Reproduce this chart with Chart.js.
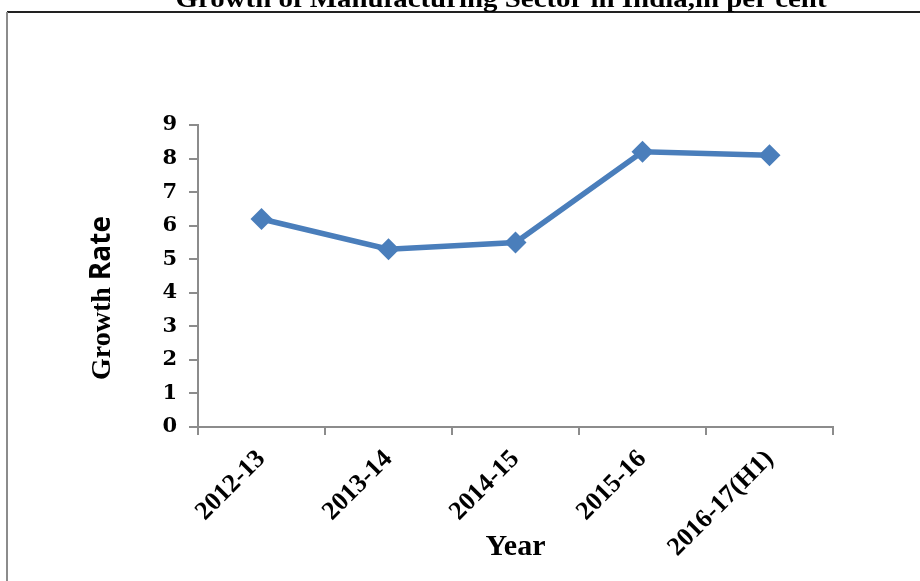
<!DOCTYPE html>
<html>
<head>
<meta charset="utf-8">
<script src="https://cdn.jsdelivr.net/npm/chart.js@4.4.0/dist/chart.umd.min.js"></script>
<style>
  html, body { margin: 0; padding: 0; background: #fff; }
  #wrap { width: 920px; height: 581px; position: relative; }
</style>
</head>
<body>
<div id="wrap"><canvas id="myChart" width="920" height="581"></canvas></div>
<script>
const chartTitle = 'Growth of Manufacturing Sector in India,in per cent';
const years = ['2012-13', '2013-14', '2014-15', '2015-16', '2016-17(H1)'];
const growthRate = [6.2, 5.3, 5.5, 8.2, 8.1];
const yTicks = [0, 1, 2, 3, 4, 5, 6, 7, 8, 9];

const lineBlue = '#4a7ebb';
const axisGrey = '#8c8c8c';
const serif = '"Liberation Serif", "DejaVu Serif", serif';
const wideSerif = '"DejaVu Serif", "Liberation Serif", serif';

// frame, cut-off title and the two-font y title
const decor = {
    id: 'decor',
    afterDraw(chart) {
        const ctx = chart.ctx;
        ctx.save();
        ctx.fillStyle = '#222';
        ctx.fillRect(7, 11, 913, 2);
        ctx.fillStyle = axisGrey;
        ctx.fillRect(6, 12, 2, 569);

        // title sits mostly above the canvas, stretch it to the original width
        ctx.fillStyle = '#000';
        ctx.font = 'bold 26px ' + serif;
        ctx.textAlign = 'center';
        ctx.textBaseline = 'alphabetic';
        const tw = ctx.measureText(chartTitle).width;
        ctx.save();
        ctx.translate(501, 7);
        ctx.scale(651 / tw, 1);
        ctx.fillText(chartTitle, 0, 0);
        ctx.restore();

        // "Growth Rate" rotated
        ctx.translate(110, 298);
        ctx.rotate(-Math.PI / 2);
        const p1 = 'Growth ';
        const p2 = 'Rate';
        const f1 = 'bold 28px ' + serif;
        const f2 = 'bold 28px "Open Sans", "Liberation Sans", sans-serif';
        ctx.font = f1;
        const w1 = ctx.measureText(p1).width;
        ctx.font = f2;
        const w2 = ctx.measureText(p2).width;
        const x0 = -(w1 + w2) / 2;
        ctx.textAlign = 'left';
        ctx.font = f1;
        ctx.fillText(p1, x0, 0);
        ctx.font = f2;
        ctx.fillText(p2, x0 + w1, 0);
        ctx.restore();
    }
};

const ctx = document.getElementById('myChart');
new Chart(ctx, {
    type: 'line',
    data: {
        labels: years,
        datasets: [{
            data: growthRate,
            borderColor: lineBlue,
            backgroundColor: lineBlue,
            borderWidth: 5.5,
            pointStyle: 'rectRot',
            pointRadius: 11,
            pointHoverRadius: 11,
            pointBorderWidth: 0,
            tension: 0
        }]
    },
    options: {
        responsive: false,
        animation: false,
        events: [],
        layout: { padding: { top: 125, right: 87, left: 0, bottom: 0 } },
        plugins: {
            legend: { display: false },
            title: { display: false },
            tooltip: { enabled: false }
        },
        scales: {
            x: {
                offset: true,
                grid: {
                    offset: true,
                    drawOnChartArea: false,
                    color: axisGrey,
                    tickLength: 8,
                    lineWidth: 2
                },
                border: { color: axisGrey, width: 2 },
                ticks: {
                    maxRotation: 45,
                    minRotation: 45,
                    padding: 9,
                    color: '#000',
                    font: { family: serif, size: 26, weight: 'bold' }
                },
                title: {
                    display: true,
                    text: 'Year',
                    color: '#000',
                    font: { family: serif, size: 30, weight: 'bold' },
                    padding: { top: 0, bottom: 16 }
                },
                afterFit(scale) { scale.height = 154; }
            },
            y: {
                min: 0,
                max: 9,
                afterBuildTicks(scale) {
                    scale.ticks = yTicks.map(v => ({ value: v }));
                },
                grid: {
                    drawOnChartArea: false,
                    color: axisGrey,
                    tickLength: 9,
                    lineWidth: 2
                },
                border: { color: axisGrey, width: 2 },
                ticks: {
                    padding: 12,
                    color: '#000',
                    font: { family: wideSerif, size: 21, weight: 'bold' }
                },
                afterFit(scale) { scale.width = 198; }
            }
        }
    },
    plugins: [decor]
});
</script>
</body>
</html>
